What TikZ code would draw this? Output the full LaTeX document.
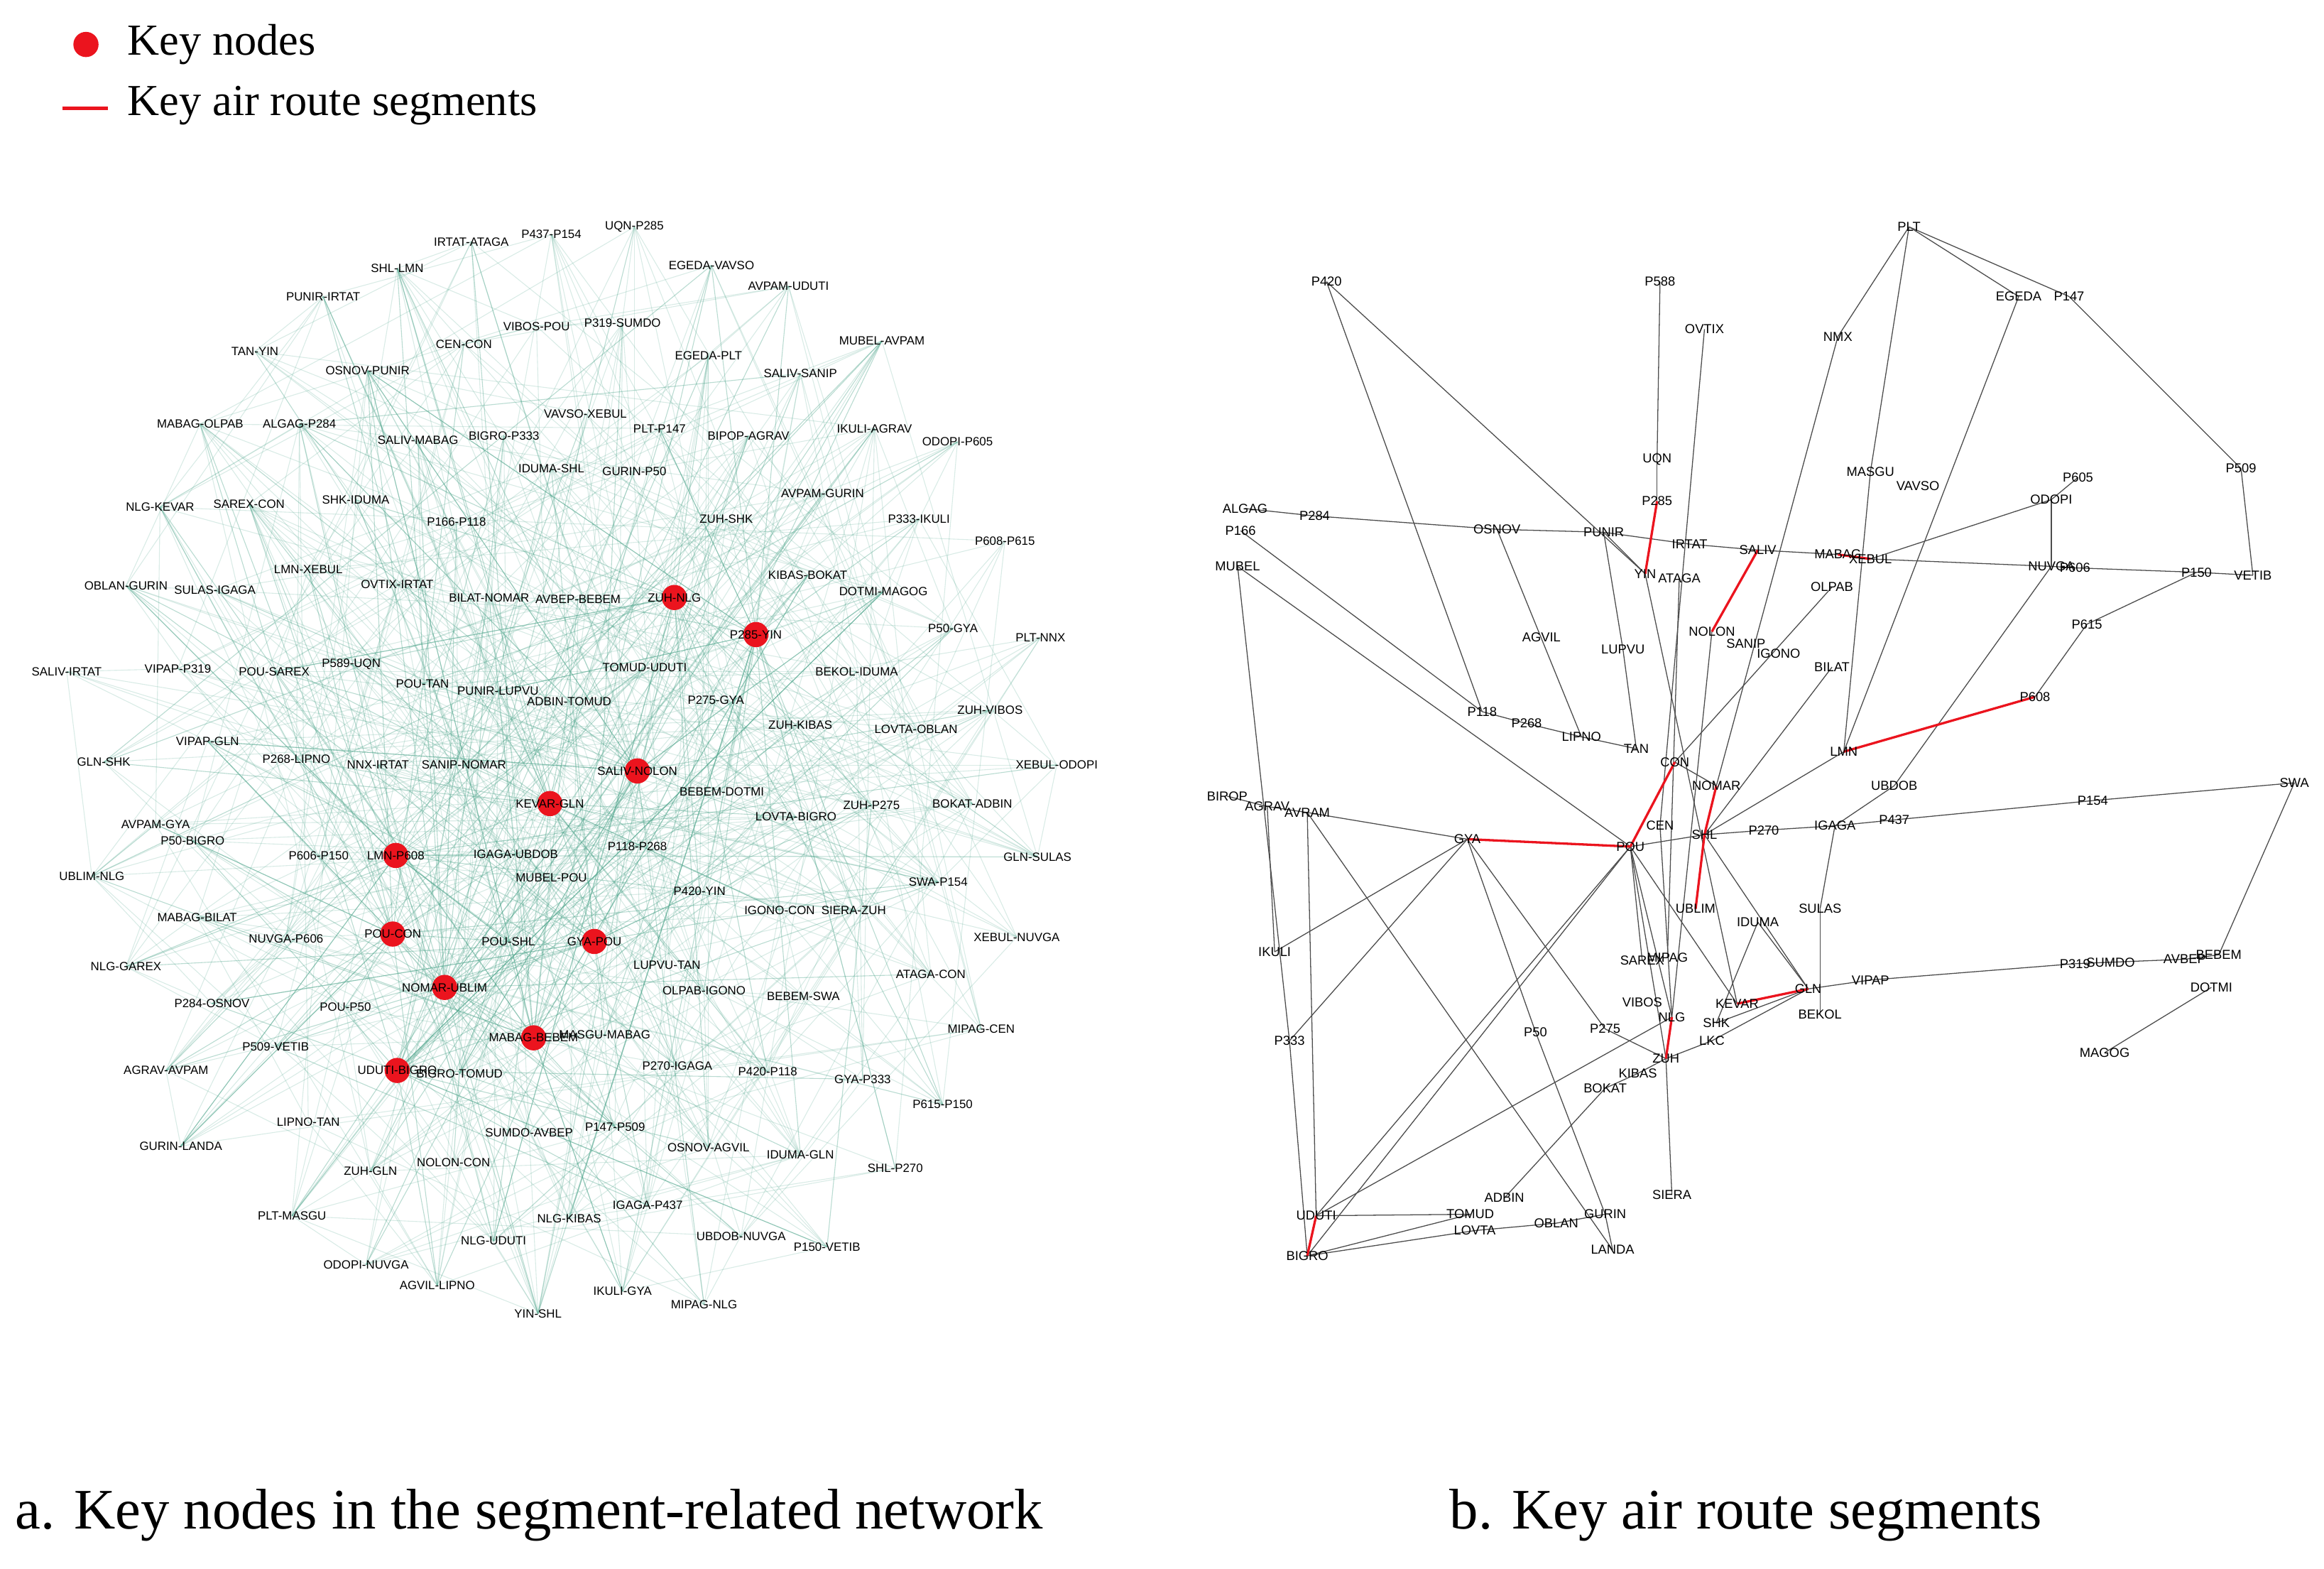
\documentclass[tikz,border=0pt]{standalone}
\usepackage{fontspec}
\setmainfont{Liberation Serif}
\newfontfamily\labfont{Liberation Sans}
\usetikzlibrary{positioning,backgrounds}
\definecolor{edgegreen}{RGB}{80,165,140}
\definecolor{keyred}{RGB}{235,20,30}

\begin{document}
\begin{tikzpicture}[x=0.2mm, y=-0.2mm,
    seg/.style={inner sep=0.3pt, font=\labfont\fontsize{4.6}{5}\selectfont},
    keynode/.style={circle, fill=keyred, inner sep=0pt, minimum size=3.4mm},
    wp/.style={inner sep=0pt, font=\labfont\fontsize{5}{6}\selectfont},
    route/.style={draw=black!70, line width=0.35pt},
    keyroute/.style={draw=keyred, line width=0.9pt},
    web/.style={draw=edgegreen, line width=0.3pt, opacity=0.22},
    caption/.style={font=\fontsize{22}{26}\selectfont, anchor=west}
]
\useasboundingbox (0,0) rectangle (1568,1058);

% Legend
\node[keynode] (legdot) at (58,30) {};
\node[font=\fontsize{17}{20}\selectfont, anchor=west] (legnodes) at (80,30) {Key nodes};
\coordinate (legA) at (42,73);
\coordinate (legB) at (73,73);
\draw[keyroute, line width=1.4pt] (legA) -- (legB);
\node[font=\fontsize{17}{20}\selectfont, anchor=west] (legroutes) at (80,71) {Key air route segments};

% Segment-related network (left)
\foreach \x/\y/\t [count=\i] in {
  318/163/IRTAT-ATAGA, 372/158/P437-P154, 428/153/UQN-P285, 268/181/SHL-LMN, 480/179/EGEDA-VAVSO,
  532/193/AVPAM-UDUTI, 218/200/PUNIR-IRTAT, 362/220/VIBOS-POU, 420/218/P319-SUMDO, 595/230/MUBEL-AVPAM,
  172/237/TAN-YIN, 313/232/CEN-CON, 478/240/EGEDA-PLT, 248/250/OSNOV-PUNIR, 540/252/SALIV-SANIP,
  135/286/MABAG-OLPAB, 202/286/ALGAG-P284, 395/279/VAVSO-XEBUL, 445/289/PLT-P147, 505/294/BIPOP-AGRAV,
  590/289/IKULI-AGRAV, 646/298/ODOPI-P605, 282/297/SALIV-MABAG, 340/294/BIGRO-P333, 108/342/NLG-KEVAR,
  168/340/SAREX-CON, 240/337/SHK-IDUMA, 428/318/GURIN-P50, 372/316/IDUMA-SHL, 555/333/AVPAM-GURIN,
  620/350/P333-IKULI, 308/352/P166-P118, 490/350/ZUH-SHK, 678/365/P608-P615, 208/384/LMN-XEBUL,
  545/388/KIBAS-BOKAT, 85/395/OBLAN-GURIN, 145/398/SULAS-IGAGA, 268/394/OVTIX-IRTAT, 596/399/DOTMI-MAGOG,
  330/403/BILAT-NOMAR, 390/404/AVBEP-BEBEM, 643/424/P50-GYA, 702/430/PLT-NNX, 45/453/SALIV-IRTAT,
  120/451/VIPAP-P319, 185/453/POU-SAREX, 237/448/P589-UQN, 435/450/TOMUD-UDUTI, 578/453/BEKOL-IDUMA,
  285/461/POU-TAN, 336/466/PUNIR-LUPVU, 384/473/ADBIN-TOMUD, 483/472/P275-GYA, 668/479/ZUH-VIBOS,
  540/489/ZUH-KIBAS, 618/492/LOVTA-OBLAN, 70/514/GLN-SHK, 140/500/VIPAP-GLN, 200/512/P268-LIPNO,
  255/516/NNX-IRTAT, 313/516/SANIP-NOMAR, 713/516/XEBUL-ODOPI, 487/534/BEBEM-DOTMI, 588/543/ZUH-P275,
  656/542/BOKAT-ADBIN, 105/556/AVPAM-GYA, 537/551/LOVTA-BIGRO, 130/567/P50-BIGRO, 215/577/P606-P150,
  348/576/IGAGA-UBDOB, 700/578/GLN-SULAS, 62/591/UBLIM-NLG, 430/571/P118-P268, 633/595/SWA-P154,
  372/592/MUBEL-POU, 472/601/P420-YIN, 133/619/MABAG-BILAT, 193/633/NUVGA-P606, 343/635/POU-SHL,
  526/614/IGONO-CON, 576/614/SIERA-ZUH, 686/632/XEBUL-NUVGA, 85/652/NLG-GAREX, 450/651/LUPVU-TAN,
  628/657/ATAGA-CON, 143/677/P284-OSNOV, 233/679/POU-P50, 475/668/OLPAB-IGONO, 542/672/BEBEM-SWA,
  408/698/MASGU-MABAG, 662/694/MIPAG-CEN, 186/706/P509-VETIB, 310/724/BIGRO-TOMUD, 457/719/P270-IGAGA,
  518/723/P420-P118, 112/722/AGRAV-AVPAM, 582/728/GYA-P333, 208/757/LIPNO-TAN, 636/745/P615-P150,
  122/773/GURIN-LANDA, 357/764/SUMDO-AVBEP, 415/760/P147-P509, 478/774/OSNOV-AGVIL, 540/779/IDUMA-GLN,
  250/790/ZUH-GLN, 306/784/NOLON-CON, 604/788/SHL-P270, 197/820/PLT-MASGU, 384/822/NLG-KIBAS,
  437/813/IGAGA-P437, 333/837/NLG-UDUTI, 500/834/UBDOB-NUVGA, 558/841/P150-VETIB, 247/853/ODOPI-NUVGA,
  295/867/AGVIL-LIPNO, 363/886/YIN-SHL, 420/871/IKULI-GYA, 475/880/MIPAG-NLG}
  \node[seg] (s\i) at (\x,\y) {\t};

% Key nodes of the segment network
\foreach \x/\y/\t [count=\i] in {
  455/403/ZUH-NLG, 510/428/P285-YIN, 430/520/SALIV-NOLON, 371/542/KEVAR-GLN, 267/577/LMN-P608,
  265/630/POU-CON, 401/635/GYA-POU, 300/666/NOMAR-UBLIM, 360/700/MABAG-BEBEM, 268/722/UDUTI-BIGRO}{
  \node[keynode] (r\i) at (\x,\y) {};
  \node[seg] (rl\i) at (\x,\y) {\t};
}

\begin{scope}[on background layer]
\pgfmathsetseed{4127}
\foreach \i in {1,...,119}{
  \foreach \k in {1,...,4}{
    \pgfmathtruncatemacro{\j}{random(1,119)}
    \draw[web] (s\i.center) -- (s\j.center);
  }
}
\foreach \i in {1,...,10}{
  \foreach \k in {1,...,22}{
    \pgfmathtruncatemacro{\j}{random(1,119)}
    \draw[web, opacity=0.4] (r\i.center) -- (s\j.center);
  }
}
\end{scope}

% Key air route segments (right)
\foreach \n/\x/\y in {
  PLT/1288/153, P420/895/190, P588/1120/190, OVTIX/1150/222, NMX/1240/227, EGEDA/1362/200,
  P147/1396/200, P509/1512/316, UQN/1118/310, MASGU/1262/318, VAVSO/1294/328, P605/1402/322,
  ODOPI/1384/337, P285/1118/338, ALGAG/840/343, P284/887/348, P166/837/358, OSNOV/1010/357,
  PUNIR/1082/359, IRTAT/1140/367, SALIV/1186/371, MABAG/1240/374, XEBUL/1262/377, NUVGA/1384/382,
  P606/1400/383, P150/1482/386, VETIB/1520/388, MUBEL/835/382, YIN/1110/387, ATAGA/1133/390,
  OLPAB/1236/396, AGVIL/1040/430, LUPVU/1095/438, NOLON/1155/426, SANIP/1178/434, IGONO/1200/441,
  BILAT/1236/450, P615/1408/421, P608/1373/470, P118/1000/480, P268/1030/488, LIPNO/1067/497,
  TAN/1104/505, CON/1130/514, LMN/1244/507, NOMAR/1158/530, UBDOB/1278/530, BIROP/828/537,
  AGRAV/855/544, AVRAM/882/548, P154/1412/540, SWA/1548/528, CEN/1120/557, GYA/990/566,
  POU/1100/571, SHL/1150/563, P270/1190/560, IGAGA/1238/557, P437/1278/553, UBLIM/1144/613,
  IDUMA/1186/622, SULAS/1228/613, IKULI/860/642, SAREX/1108/648, MIPAG/1125/646, P319/1400/650,
  SUMDO/1424/649, AVBEP/1474/647, BEBEM/1497/644, DOTMI/1492/666, VIPAP/1262/661, GLN/1220/667,
  VIBOS/1108/676, KEVAR/1172/677, NLG/1128/686, SHK/1158/690, BEKOL/1228/684, P50/1036/696,
  P275/1083/694, LKC/1155/702, P333/870/702, MAGOG/1420/710, ZUH/1124/714, KIBAS/1105/724,
  BOKAT/1083/734, SIERA/1128/806, ADBIN/1015/808, UDUTI/888/820, TOMUD/992/819, LOVTA/995/830,
  GURIN/1083/819, OBLAN/1050/825, LANDA/1088/843, BIGRO/882/847}
  \node[wp] (\n) at (\x,\y) {\n};

% ordinary route segments
\begin{scope}[on background layer]
\foreach \a/\b in {ALGAG/P284, P284/OSNOV, OSNOV/PUNIR, PUNIR/IRTAT, IRTAT/SALIV, SALIV/MABAG,
  XEBUL/NUVGA, NUVGA/P606, P606/P150, P150/VETIB, P166/P118, P118/P268, P268/LIPNO, LIPNO/TAN,
  OSNOV/LIPNO, P420/P118, P420/YIN, PUNIR/LUPVU, LUPVU/TAN, PUNIR/YIN, MUBEL/POU, MUBEL/P333,
  P588/UQN, UQN/P285, OVTIX/CEN, PLT/NMX, PLT/EGEDA, PLT/P147, P147/P509, P509/VETIB, PLT/MASGU,
  MASGU/LMN, NMX/NOMAR, EGEDA/LMN, ODOPI/XEBUL, ODOPI/P605, ODOPI/NUVGA, NUVGA/UBDOB,
  UBDOB/IGAGA, P150/P615, P615/P608, LMN/SHL, NOLON/NLG, OLPAB/CON, BILAT/SHL, ATAGA/MIPAG,
  YIN/KEVAR, POU/SHL, SHL/P270, P270/IGAGA, IGAGA/P437, P437/P154, P154/SWA, SWA/BEBEM,
  P319/SUMDO, SUMDO/AVBEP, AVBEP/BEBEM, DOTMI/MAGOG, GLN/VIPAP, VIPAP/P319, GLN/SHK, GLN/LKC,
  LKC/ZUH, POU/NLG, POU/KEVAR, POU/ZUH, ZUH/SIERA, SHL/GLN, IDUMA/GLN, IDUMA/SHK, SULAS/IGAGA,
  SULAS/BEKOL, ZUH/KIBAS, KIBAS/BOKAT, BOKAT/ADBIN, NLG/UDUTI, UDUTI/TOMUD, BIGRO/TOMUD,
  BIGRO/LOVTA, LOVTA/OBLAN, OBLAN/GURIN, GURIN/LANDA, BIROP/AGRAV, AGRAV/AVRAM, AVRAM/GYA,
  AGRAV/IKULI, IKULI/GYA, P333/BIGRO, AVRAM/UDUTI, AVRAM/LANDA, GYA/P333, GYA/P50, P50/GURIN,
  GYA/P275, P275/ZUH, POU/UDUTI, CEN/NLG, CON/NOMAR, POU/SAREX, POU/BIGRO}
  \draw[route] (\a.center) -- (\b.center);

% key route segments
\foreach \a/\b in {MABAG/XEBUL, P285/YIN, SALIV/NOLON, P608/LMN, GYA/POU, POU/CON,
  NOMAR/SHL, SHL/UBLIM, KEVAR/GLN, NLG/ZUH, UDUTI/BIGRO}
  \draw[keyroute] (\a.center) -- (\b.center);
\end{scope}

% Captions
\node[caption] (capa) at (4,1022) {a. Key nodes in the segment-related network};
\node[caption] (capb) at (972,1022) {b. Key air route segments};
\end{tikzpicture}
\end{document}
